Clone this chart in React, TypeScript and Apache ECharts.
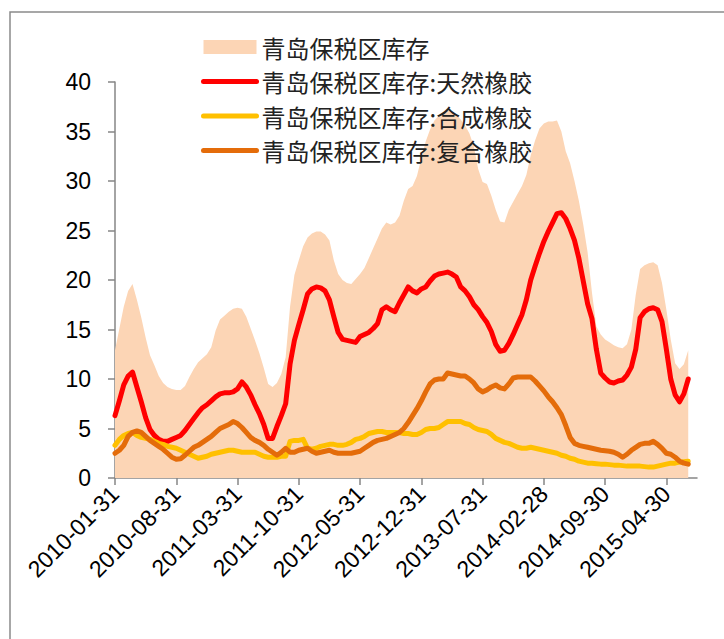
import { useEffect, useRef } from 'react';
import * as echarts from 'echarts';

// Semi-monthly report dates (15th and month end), 2010-01-31 .. 2015-08-15
function buildDates(): string[] {
  const out: string[] = [];
  const pad = (n: number) => (n < 10 ? '0' + n : '' + n);
  for (let m = 0; m <= 66; m++) {
    const y = 2010 + Math.floor(m / 12);
    const mo = m % 12; // 0-based
    const last = new Date(Date.UTC(y, mo + 1, 0)).getUTCDate();
    out.push(`${y}-${pad(mo + 1)}-${pad(last)}`);
    const y2 = 2010 + Math.floor((m + 1) / 12);
    const mo2 = (m + 1) % 12;
    out.push(`${y2}-${pad(mo2 + 1)}-15`);
  }
  return out;
}
const dates = buildDates();

const names = [
  '青岛保税区库存',
  '青岛保税区库存:天然橡胶',
  '青岛保税区库存:合成橡胶',
  '青岛保税区库存:复合橡胶',
];

const total = [
  12.9, 15.1, 17.3, 18.9, 19.6, 18.0, 16.2, 14.2, 12.4, 11.4,
  10.3, 9.6, 9.2, 9.0, 8.9, 8.9, 9.3, 10.2, 11.0, 11.7,
  12.1, 12.5, 13.2, 14.9, 16.0, 16.4, 16.8, 17.1, 17.2, 17.1,
  16.3, 15.1, 13.9, 12.6, 11.1, 9.5, 9.2, 9.6, 10.5, 12.2,
  17.3, 20.5, 22.0, 23.4, 24.3, 24.7, 24.9, 24.9, 24.6, 24.0,
  22.0, 20.6, 20.0, 19.7, 19.6, 20.1, 20.6, 21.2, 22.2, 23.2,
  24.2, 25.2, 25.8, 25.6, 25.8, 26.5, 28.0, 29.2, 29.5, 30.5,
  32.3, 34.0, 35.2, 36.1, 36.6, 37.0, 37.1, 37.0, 36.7, 36.2,
  35.6, 34.8, 33.5, 31.2, 29.9, 29.7, 28.5, 27.1, 25.9, 25.8,
  27.1, 27.9, 28.7, 29.5, 30.6, 32.6, 34.1, 35.3, 35.8, 36.0,
  36.0, 36.1, 35.0, 33.0, 31.8, 30.0, 28.0, 25.6, 22.8, 18.7,
  15.3, 14.5, 14.0, 13.7, 13.4, 13.2, 13.1, 13.5, 15.0, 18.5,
  21.1, 21.5, 21.7, 21.8, 21.5, 19.7, 17.0, 14.0, 11.6, 11.0,
  11.5, 12.9,
];

const natural = [
  6.3, 7.8, 9.4, 10.3, 10.7, 9.2, 7.7, 6.1, 4.9, 4.3,
  3.9, 3.7, 3.7, 3.9, 4.1, 4.3, 4.8, 5.4, 6.0, 6.6,
  7.1, 7.4, 7.8, 8.2, 8.5, 8.6, 8.6, 8.7, 9.0, 9.7,
  9.2, 8.4, 7.4, 6.5, 5.4, 4.0, 4.0, 5.2, 6.3, 7.5,
  11.5, 13.9, 15.5, 17.0, 18.6, 19.1, 19.3, 19.2, 18.9, 18.0,
  16.3, 14.7, 14.0, 13.9, 13.8, 13.7, 14.3, 14.5, 14.7, 15.1,
  15.6, 17.0, 17.3, 17.0, 16.8, 17.7, 18.5, 19.3, 18.9, 18.7,
  19.1, 19.3, 19.9, 20.4, 20.6, 20.7, 20.8, 20.6, 20.3, 19.3,
  18.9, 18.3, 17.5, 17.0, 16.3, 15.7, 14.8, 13.5, 12.8, 12.9,
  13.6, 14.5, 15.5, 16.5, 18.0, 20.0, 21.4, 22.7, 23.9, 24.9,
  25.8, 26.7, 26.8, 26.2, 25.2, 24.0, 22.2, 19.9, 17.6, 16.1,
  13.0, 10.6, 10.1, 9.7, 9.6, 9.8, 9.9, 10.4, 11.2, 13.0,
  16.2, 16.8, 17.1, 17.2, 17.0, 15.8, 13.0, 10.0, 8.4, 7.7,
  8.5, 10.0,
];

const synthetic = [
  3.3, 3.9, 4.3, 4.5, 4.6, 4.3, 4.1, 4.0, 3.9, 3.7,
  3.5, 3.4, 3.2, 3.1, 3.0, 2.8, 2.6, 2.4, 2.2, 2.0,
  2.1, 2.2, 2.4, 2.5, 2.6, 2.7, 2.8, 2.8, 2.7, 2.6,
  2.6, 2.6, 2.6, 2.4, 2.2, 2.1, 2.1, 2.1, 2.2, 2.2,
  3.7, 3.8, 3.8, 3.9, 3.0, 2.9, 3.0, 3.2, 3.3, 3.4,
  3.4, 3.3, 3.3, 3.4, 3.6, 3.9, 4.0, 4.2, 4.5, 4.6,
  4.7, 4.7, 4.6, 4.6, 4.6, 4.6, 4.5, 4.5, 4.4, 4.4,
  4.6, 4.9, 5.0, 5.0, 5.1, 5.4, 5.7, 5.7, 5.7, 5.7,
  5.5, 5.4, 5.1, 4.9, 4.8, 4.7, 4.4, 4.0, 3.8, 3.6,
  3.5, 3.3, 3.1, 3.0, 3.0, 3.1, 3.0, 2.9, 2.8, 2.7,
  2.6, 2.5, 2.3, 2.2, 2.0, 1.9, 1.7, 1.6, 1.5, 1.5,
  1.45, 1.4, 1.4, 1.35, 1.3, 1.3, 1.25, 1.2, 1.2, 1.2,
  1.2, 1.15, 1.1, 1.1, 1.2, 1.3, 1.4, 1.5, 1.5, 1.6,
  1.65, 1.7,
];

const compound = [
  2.5, 2.8, 3.3, 4.2, 4.6, 4.75, 4.6, 4.2, 3.8, 3.5,
  3.2, 2.9, 2.5, 2.1, 1.9, 1.95, 2.3, 2.7, 3.1, 3.3,
  3.6, 3.9, 4.2, 4.6, 5.0, 5.2, 5.4, 5.7, 5.5, 5.1,
  4.6, 4.1, 3.8, 3.6, 3.3, 2.9, 2.6, 2.3, 2.6, 3.0,
  2.6, 2.6, 2.8, 2.9, 3.0, 2.7, 2.5, 2.6, 2.7, 2.8,
  2.6, 2.5, 2.5, 2.5, 2.5, 2.6, 2.7, 3.0, 3.3, 3.6,
  3.8, 3.9, 4.0, 4.2, 4.4, 4.6, 5.0, 5.6, 6.3, 7.0,
  7.8, 8.7, 9.5, 9.9, 10.0, 10.0, 10.6, 10.5, 10.4, 10.3,
  10.3, 10.0, 9.6, 9.0, 8.7, 8.9, 9.2, 9.4, 9.1, 9.0,
  9.5, 10.1, 10.2, 10.2, 10.2, 10.2, 9.8, 9.3, 8.8, 8.2,
  7.7, 7.1, 6.4, 5.3, 4.1, 3.5, 3.3, 3.2, 3.1, 3.0,
  2.9, 2.8, 2.75, 2.7, 2.6, 2.4, 2.1, 2.4, 2.8, 3.1,
  3.4, 3.5, 3.5, 3.7, 3.4, 3.0, 2.5, 2.4, 2.1, 1.7,
  1.5, 1.4,
];

const colors = ['#FCD5B5', '#FF0000', '#FFC000', '#E46C0A'];

export default function App() {
  const ref = useRef<HTMLDivElement>(null);
  useEffect(() => {
    if (!ref.current) return;
    const chart = echarts.init(ref.current, undefined, { renderer: 'svg' });
    const axisColor = '#868686';
    const lineSeries = (name: string, data: number[], color: string) => ({
      name,
      type: 'line',
      data,
      symbol: 'none',
      smooth: false,
      z: 3,
      lineStyle: { color, width: 5, cap: 'round', join: 'round' },
      itemStyle: { color },
    });
    const lineLegend = (name: string, color: string) => ({
      name,
      itemStyle: { color, opacity: 0 },
      lineStyle: { color, width: 5, cap: 'round' },
    });
    chart.setOption({
      animation: false,
      backgroundColor: '#ffffff',
      graphic: [
        {
          type: 'rect',
          shape: { x: 10, y: 12, width: 800, height: 800 },
          style: { fill: 'none', stroke: '#8a8a8a', lineWidth: 1.5 },
          silent: true,
          z: 0,
        },
      ],
      legend: {
        orient: 'vertical',
        left: 196,
        top: 30,
        itemWidth: 53,
        itemHeight: 14,
        itemGap: 10.5,
        lineStyle: { width: 5 },
        textStyle: {
          fontFamily: 'Noto Sans CJK SC',
          fontSize: 24,
          lineHeight: 24,
          color: '#222222',
        },
        data: [
          { name: names[0], icon: 'rect', itemStyle: { color: colors[0] } },
          lineLegend(names[1], colors[1]),
          lineLegend(names[2], colors[2]),
          lineLegend(names[3], colors[3]),
        ],
      },
      grid: { left: 115, right: 27, top: 82, bottom: 161, containLabel: false },
      xAxis: {
        type: 'category',
        data: dates,
        boundaryGap: false,
        axisLine: { lineStyle: { color: axisColor, width: 1.5 } },
        axisTick: { show: true, interval: 13, length: 7, lineStyle: { color: axisColor, width: 1.5 } },
        axisLabel: {
          interval: 13,
          rotate: 45,
          margin: 12,
          color: '#000000',
          fontFamily: 'Liberation Sans',
          fontSize: 23,
        },
        splitLine: { show: false },
      },
      yAxis: {
        type: 'value',
        min: 0,
        max: 40,
        interval: 5,
        axisLine: { show: true, lineStyle: { color: axisColor, width: 1.5 } },
        axisTick: { show: true, length: 7, lineStyle: { color: axisColor, width: 1.5 } },
        axisLabel: {
          margin: 24,
          color: '#000000',
          fontFamily: 'Liberation Sans',
          fontSize: 23,
        },
        splitLine: { show: false },
      },
      series: [
        {
          name: names[0],
          type: 'line',
          data: total,
          symbol: 'none',
          z: 1,
          lineStyle: { width: 0, color: colors[0] },
          itemStyle: { color: colors[0] },
          areaStyle: { color: colors[0], opacity: 1 },
        },
        lineSeries(names[1], natural, colors[1]),
        lineSeries(names[2], synthetic, colors[2]),
        lineSeries(names[3], compound, colors[3]),
      ],
    });
    return () => chart.dispose();
  }, []);
  return (
    <div
      ref={ref}
      style={{ position: 'absolute', left: 0, top: 0, width: 724, height: 639 }}
    />
  );
}
